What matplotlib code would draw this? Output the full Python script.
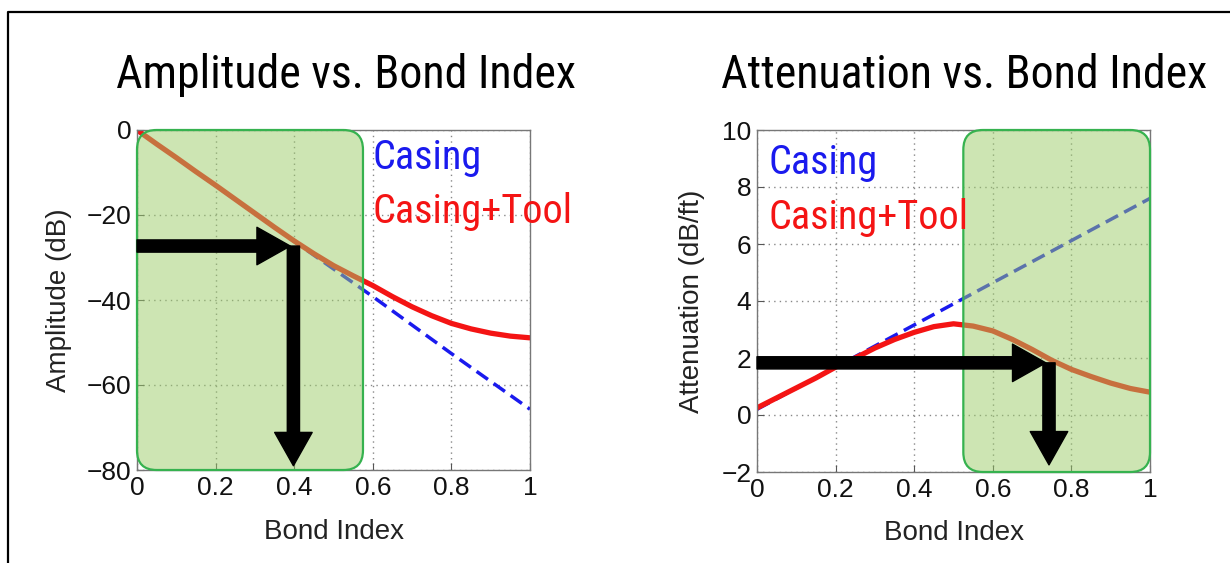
import matplotlib
matplotlib.use("Agg")
import matplotlib.pyplot as plt
from matplotlib import font_manager
from matplotlib.patches import FancyBboxPatch
from matplotlib.lines import Line2D

# ── Data ──────────────────────────────────────────────────────────────────────

bond_index = [0.0, 0.05, 0.1, 0.15, 0.2, 0.25, 0.3, 0.35, 0.4, 0.45, 0.5,
              0.55, 0.6, 0.65, 0.7, 0.75, 0.8, 0.85, 0.9, 0.95, 1.0]

amp_casing_x = [0.0, 0.2, 0.4, 0.6, 0.8, 1.0]
amp_casing   = [0.0, -13.1, -26.2, -39.2, -52.6, -65.7]
amp_tool     = [0.0, -3.3, -6.5, -9.8, -13.0, -16.3, -19.6, -22.9, -26.1, -29.1, -31.9,
                -34.3, -36.6, -39.2, -41.6, -43.7, -45.5, -46.8, -47.8, -48.5, -48.9]

att_casing_x = [0.0, 0.2, 0.4, 0.6, 0.8, 1.0]
att_casing   = [0.2, 1.68, 3.16, 4.64, 6.12, 7.6]
att_tool     = [0.25, 0.6, 0.95, 1.3, 1.68, 2.0, 2.35, 2.65, 2.9, 3.1, 3.2,
                3.12, 2.95, 2.65, 2.3, 1.92, 1.6, 1.35, 1.12, 0.93, 0.8]

# highlighted bond-index ranges
amp_zone = (0.0, 0.575)
att_zone = (0.525, 1.0)

# reading arrows: (x start, x at curve, y at curve, y end)
amp_arrow = (0.0, 0.39, -27.3, -79.0)
att_arrow = (0.0, 0.735, 1.83, -1.75)

x_ticks = [0, 0.2, 0.4, 0.6, 0.8, 1.0]
x_ticklabels = ["0", "0.2", "0.4", "0.6", "0.8", "1"]
amp_ticks = [-80, -60, -40, -20, 0]
att_ticks = [-2, 0, 2, 4, 6, 8, 10]

# ── Fonts: prefer a narrow face for titles / legend words ─────────────────────

names = {f.name for f in font_manager.fontManager.ttflist}
narrow = None
for cand in ["Liberation Sans Narrow", "Roboto Condensed", "Open Sans Condensed",
             "Noto Sans Condensed", "DejaVu Sans Condensed"]:
    if cand in names:
        narrow = cand
        break
if narrow is None:
    for n in sorted(names):
        if "Narrow" in n or "Condensed" in n:
            narrow = n
            break

if narrow:
    NARROW = [narrow, "DejaVu Sans"]
    TITLE_SIZE, WORD_SIZE = 33, 29
else:
    NARROW = ["Liberation Sans", "DejaVu Sans"]
    TITLE_SIZE, WORD_SIZE = 29, 26

plt.rcParams["font.family"] = ["Liberation Sans", "DejaVu Sans"]

RED = "#f41414"
BLUE = "#1a1aee"
ZONE_FACE = (0.61, 0.80, 0.41, 0.5)
ZONE_EDGE = "#36b24f"
ARROW = "simple,head_length=1.2,head_width=1.35,tail_width=0.44"

fig = plt.figure(figsize=(12.3, 5.63), dpi=100)

# outer frame (left + top edge)
fig.add_artist(Line2D([8 / 1230, 8 / 1230, 1.0], [0.0, 1 - 12 / 563, 1 - 12 / 563],
                      transform=fig.transFigure, color="black", lw=1.6))

ax1 = fig.add_axes([137 / 1230, 1 - 470 / 563, 393 / 1230, 340 / 563])
ax2 = fig.add_axes([757 / 1230, 1 - 472 / 563, 393 / 1230, 342 / 563])


def style_axes(ax, yticks, ylabel, ylim):
    ax.set_xlim(0, 1)
    ax.set_ylim(*ylim)
    ax.set_xticks(x_ticks)
    ax.set_xticklabels(x_ticklabels)
    ax.set_yticks(yticks)
    ax.set_yticklabels([f"{t}".replace("-", "\u2212") for t in yticks])
    ax.tick_params(direction="in", length=5, labelsize=19, color="#555555", pad=4,
                   labelcolor="#111111")
    ax.grid(True, linestyle=(0, (1, 3)), color="#888888", lw=1.0)
    ax.set_axisbelow(True)
    for s in ax.spines.values():
        s.set_color("#777777")
        s.set_linewidth(1.0)
    ax.set_xlabel("Bond Index", fontsize=20, color="#222222")
    ax.set_ylabel(ylabel, fontsize=20, color="#222222")


def add_zone(ax, x0, x1, y0, y1, aspect):
    box = FancyBboxPatch((x0, y0), x1 - x0, y1 - y0,
                         boxstyle="round,pad=0,rounding_size=0.05",
                         mutation_aspect=aspect, facecolor=ZONE_FACE,
                         edgecolor=ZONE_EDGE, lw=1.6, zorder=3, clip_on=False)
    ax.add_patch(box)


def add_arrows(ax, arrow):
    xs, xc, yc, ye = arrow
    ax.annotate("", xy=(xc, yc), xytext=(xs, yc),
                arrowprops=dict(arrowstyle=ARROW, mutation_scale=20, color="black",
                                shrinkA=0, shrinkB=0), zorder=5)
    ax.annotate("", xy=(xc + 0.008, ye), xytext=(xc + 0.008, yc),
                arrowprops=dict(arrowstyle=ARROW, mutation_scale=20, color="black",
                                shrinkA=0, shrinkB=0), zorder=5)


# ── Amplitude panel ───────────────────────────────────────────────────────────

ax1.plot(amp_casing_x, amp_casing, color=BLUE, lw=2.5, ls=(0, (4, 2)), zorder=2)
ax1.plot(bond_index, amp_tool, color=RED, lw=3.8, zorder=2.5)
style_axes(ax1, amp_ticks, "Amplitude (dB)", (-80, 0))
ax1.yaxis.set_label_coords(-0.165, 0.5)
ax1.xaxis.set_label_coords(0.5, -0.145)
add_zone(ax1, amp_zone[0], amp_zone[1], -80, 0, (1 / 4.25) / (1 / 393))
add_arrows(ax1, amp_arrow)
ax1.text(0.60, 0.885, "Casing", transform=ax1.transAxes, color=BLUE,
         fontsize=WORD_SIZE, family=NARROW, va="baseline", zorder=6)
ax1.text(0.60, 0.725, "Casing+Tool", transform=ax1.transAxes, color=RED,
         fontsize=WORD_SIZE, family=NARROW, va="baseline", zorder=6)

# ── Attenuation panel ─────────────────────────────────────────────────────────

ax2.plot(att_casing_x, att_casing, color=BLUE, lw=2.5, ls=(0, (4, 2)), zorder=2)
ax2.plot(bond_index, att_tool, color=RED, lw=3.8, zorder=2.5)
style_axes(ax2, att_ticks, "Attenuation (dB/ft)", (-2, 10))
ax2.yaxis.set_label_coords(-0.132, 0.5)
ax2.xaxis.set_label_coords(0.5, -0.14)
add_zone(ax2, att_zone[0], att_zone[1], -2, 10, 393 / 28.5)
add_arrows(ax2, att_arrow)
ax2.text(0.028, 0.87, "Casing", transform=ax2.transAxes, color=BLUE,
         fontsize=WORD_SIZE, family=NARROW, va="baseline", zorder=6)
ax2.text(0.028, 0.71, "Casing+Tool", transform=ax2.transAxes, color=RED,
         fontsize=WORD_SIZE, family=NARROW, va="baseline", zorder=6)

# ── Titles ────────────────────────────────────────────────────────────────────

fig.text(346 / 1230, 1 - 88 / 563, "Amplitude vs. Bond Index", ha="center",
         va="baseline", fontsize=TITLE_SIZE, family=NARROW)
fig.text(964 / 1230, 1 - 88 / 563, "Attenuation vs. Bond Index", ha="center",
         va="baseline", fontsize=TITLE_SIZE, family=NARROW)

fig.savefig("out.png", dpi=100)
